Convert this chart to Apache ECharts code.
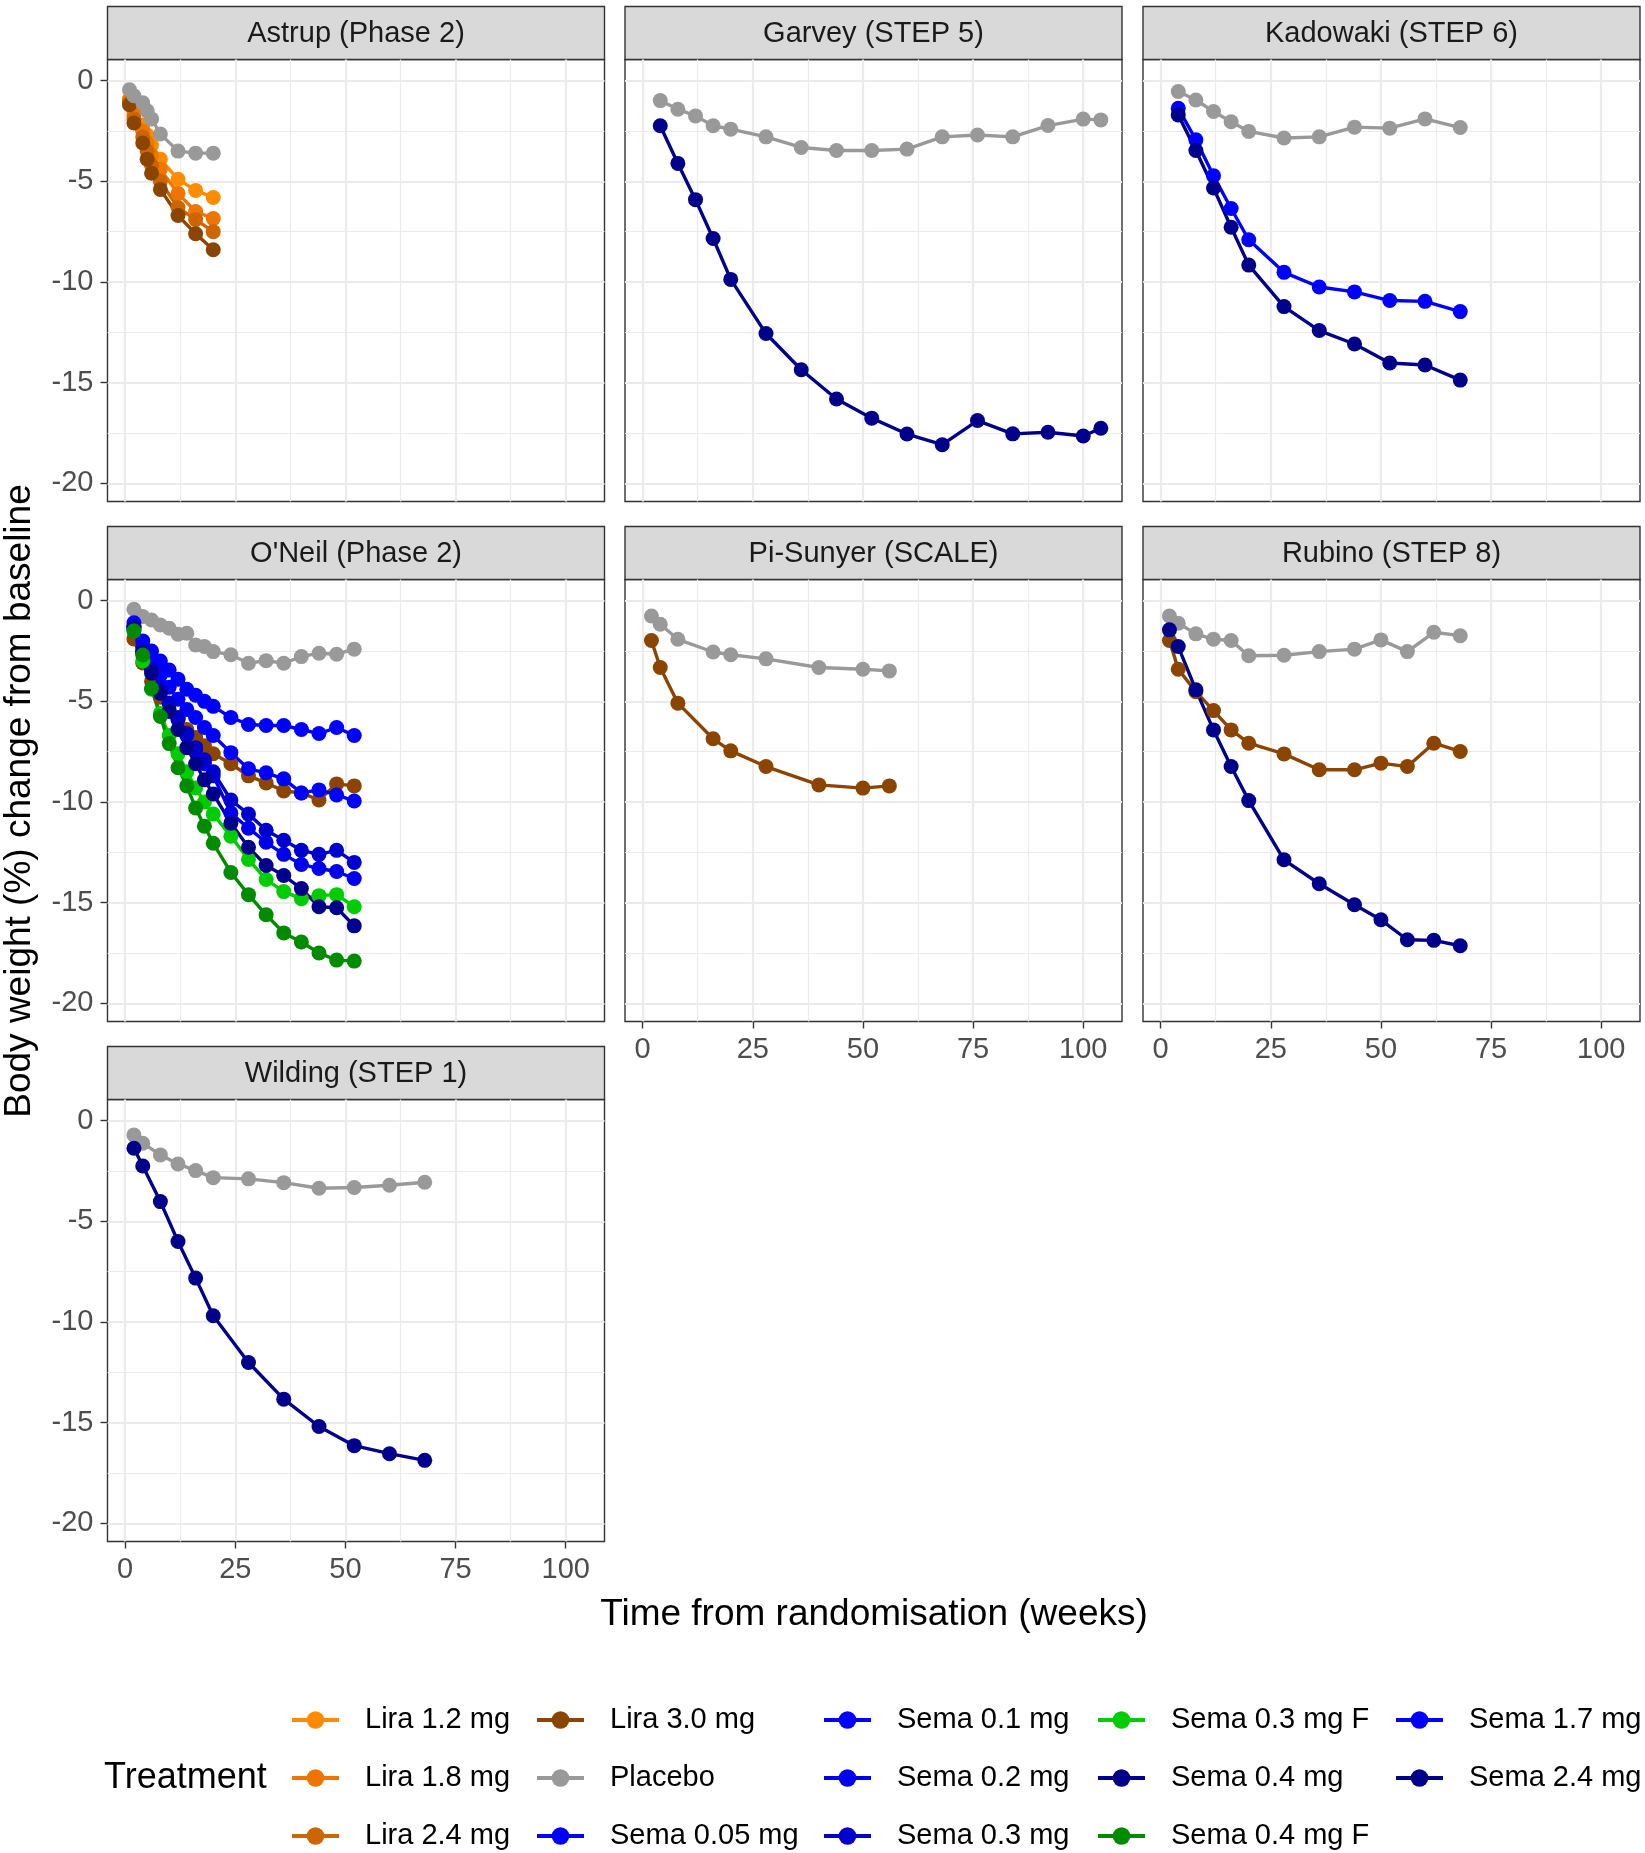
<!DOCTYPE html>
<html>
<head>
<meta charset="utf-8">
<script src="https://cdn.jsdelivr.net/npm/echarts@6/dist/echarts.min.js"></script>
<style>
  html, body { margin: 0; padding: 0; background: #fff; }
  #chart { width: 1645px; height: 1853px; }
</style>
</head>
<body>
<div id="chart"></div>
<script>
// ---- data (weeks since randomisation, % change in body weight) ----
const astrupWeeks = [1, 2, 4, 5, 6, 8, 12, 16, 20];
const astrupPlacebo = [-0.45, -0.75, -1.1, -1.5, -1.9, -2.65, -3.5, -3.6, -3.6];
const astrupLira12 = [-0.9, -1.5, -2.2, -2.7, -3.2, -3.9, -4.9, -5.45, -5.8];
const astrupLira18 = [-1.0, -1.7, -2.5, -3.1, -3.7, -4.4, -5.6, -6.5, -6.85];
const astrupLira24 = [-1.1, -1.9, -2.8, -3.5, -4.2, -5.0, -6.3, -6.9, -7.5];
const astrupLira30 = [-1.2, -2.1, -3.1, -3.9, -4.6, -5.4, -6.7, -7.6, -8.4];

const garveyWeeks = [4, 8, 12, 16, 20, 28, 36, 44, 52, 60, 68, 76, 84, 92, 100, 104];
const garveyPlacebo = [-0.99, -1.42, -1.75, -2.24, -2.41, -2.79, -3.32, -3.47, -3.47, -3.40, -2.79, -2.70, -2.79, -2.23, -1.91, -1.95];
const garveySema24 = [-2.24, -4.11, -5.91, -7.84, -9.87, -12.56, -14.36, -15.81, -16.76, -17.55, -18.08, -16.88, -17.54, -17.46, -17.65, -17.26];

const kadowakiWeeks = [4, 8, 12, 16, 20, 28, 36, 44, 52, 60, 68];
const kadowakiPlacebo = [-0.54, -0.96, -1.53, -2.04, -2.52, -2.85, -2.79, -2.31, -2.36, -1.90, -2.33];
const kadowakiSema17 = [-1.37, -2.94, -4.72, -6.35, -7.90, -9.52, -10.25, -10.49, -10.92, -10.96, -11.47];
const kadowakiSema24 = [-1.70, -3.47, -5.33, -7.28, -9.16, -11.22, -12.41, -13.08, -14.02, -14.12, -14.87];

const oneilWeeks = [2, 4, 6, 8, 10, 12, 14, 16, 18, 20, 24, 28, 32, 36, 40, 44, 48, 52];
const oneilPlacebo = [-0.43, -0.79, -0.96, -1.21, -1.37, -1.67, -1.62, -2.20, -2.28, -2.53, -2.69, -3.11, -2.98, -3.11, -2.78, -2.61, -2.66, -2.41];
const oneilLira30 = [-1.9, -3.1, -4.0, -4.8, -5.4, -5.9, -6.4, -6.8, -7.2, -7.6, -8.1, -8.7, -9.05, -9.45, -9.55, -9.9, -9.1, -9.2];
const oneilSema005 = [-1.1, -2.0, -2.5, -3.0, -3.45, -3.9, -4.4, -4.7, -5.0, -5.25, -5.8, -6.15, -6.2, -6.2, -6.4, -6.6, -6.3, -6.7];
const oneilSema01 = [-1.3, -2.3, -3.0, -3.7, -4.3, -4.9, -5.4, -5.8, -6.3, -6.7, -7.55, -8.35, -8.55, -8.85, -9.55, -9.4, -9.65, -9.95];
const oneilSema02 = [-1.3, -2.5, -3.4, -4.3, -5.1, -5.9, -6.7, -7.4, -8.1, -8.7, -10.55, -11.3, -12.0, -12.6, -13.1, -13.3, -13.45, -13.8];
const oneilSema03 = [-1.3, -2.5, -3.4, -4.3, -5.1, -5.8, -6.6, -7.3, -7.9, -8.5, -9.9, -10.6, -11.4, -11.9, -12.4, -12.6, -12.4, -13.0];
const oneilSema04 = [-1.4, -2.6, -3.6, -4.6, -5.5, -6.4, -7.3, -8.1, -8.9, -9.6, -11.05, -12.25, -13.15, -13.65, -14.3, -15.2, -15.25, -16.15];
const oneilSema03F = [-1.5, -3.0, -4.4, -5.6, -6.7, -7.6, -8.5, -9.3, -10.0, -10.6, -11.7, -12.85, -13.85, -14.45, -14.8, -14.65, -14.6, -15.2];
const oneilSema04F = [-1.5, -2.7, -4.35, -5.75, -7.1, -8.3, -9.2, -10.3, -11.2, -12.05, -13.5, -14.6, -15.6, -16.5, -16.95, -17.5, -17.85, -17.9];

const pisunyerWeeks = [2, 4, 8, 16, 20, 28, 40, 50, 56];
const pisunyerPlacebo = [-0.76, -1.17, -1.92, -2.55, -2.69, -2.89, -3.32, -3.41, -3.49];
const pisunyerLira30 = [-1.98, -3.32, -5.09, -6.86, -7.46, -8.24, -9.15, -9.31, -9.20];

const rubinoWeeks = [2, 4, 8, 12, 16, 20, 28, 36, 44, 50, 56, 62, 68];
const rubinoPlacebo = [-0.76, -1.12, -1.65, -1.92, -1.98, -2.74, -2.71, -2.53, -2.41, -1.95, -2.53, -1.57, -1.74];
const rubinoLira30 = [-1.98, -3.41, -4.52, -5.46, -6.42, -7.08, -7.61, -8.40, -8.40, -8.07, -8.24, -7.08, -7.49];
const rubinoSema24 = [-1.45, -2.28, -4.43, -6.42, -8.24, -9.93, -12.87, -14.06, -15.10, -15.85, -16.84, -16.87, -17.14];

const wildingWeeks = [2, 4, 8, 12, 16, 20, 28, 36, 44, 52, 60, 68];
const wildingPlacebo = [-0.71, -1.12, -1.70, -2.15, -2.48, -2.83, -2.89, -3.08, -3.36, -3.32, -3.21, -3.06];
const wildingSema24 = [-1.37, -2.25, -4.02, -6.00, -7.82, -9.69, -12.01, -13.83, -15.19, -16.14, -16.54, -16.87];

const xMajor = [0, 25, 50, 75, 100];
const xMinor = [12.5, 37.5, 62.5, 87.5];
const yMajor = [-20, -15, -10, -5, 0];
const yMinor = [-17.5, -12.5, -7.5, -2.5];

const treatmentColors = {
  'Lira 1.2 mg': '#FF8C00',
  'Lira 1.8 mg': '#EE7600',
  'Lira 2.4 mg': '#CD6600',
  'Lira 3.0 mg': '#8B4500',
  'Placebo': '#999999',
  'Sema 0.05 mg': '#0000FF',
  'Sema 0.1 mg': '#0000FF',
  'Sema 0.2 mg': '#0000EE',
  'Sema 0.3 mg': '#0000CD',
  'Sema 0.3 mg F': '#00CD00',
  'Sema 0.4 mg': '#00008B',
  'Sema 0.4 mg F': '#008B00',
  'Sema 1.7 mg': '#0000FF',
  'Sema 2.4 mg': '#00008B'
};

// legend is filled column by column, 3 rows
const legendColumns = [
  ['Lira 1.2 mg', 'Lira 1.8 mg', 'Lira 2.4 mg'],
  ['Lira 3.0 mg', 'Placebo', 'Sema 0.05 mg'],
  ['Sema 0.1 mg', 'Sema 0.2 mg', 'Sema 0.3 mg'],
  ['Sema 0.3 mg F', 'Sema 0.4 mg', 'Sema 0.4 mg F'],
  ['Sema 1.7 mg', 'Sema 2.4 mg']
];

const panels = [
  { title: 'Astrup (Phase 2)', row: 0, col: 0, weeks: astrupWeeks, showX: false, showY: true,
    arms: [['Lira 1.2 mg', astrupLira12], ['Lira 1.8 mg', astrupLira18], ['Lira 2.4 mg', astrupLira24], ['Lira 3.0 mg', astrupLira30], ['Placebo', astrupPlacebo]] },
  { title: 'Garvey (STEP 5)', row: 0, col: 1, weeks: garveyWeeks, showX: false, showY: false,
    arms: [['Placebo', garveyPlacebo], ['Sema 2.4 mg', garveySema24]] },
  { title: 'Kadowaki (STEP 6)', row: 0, col: 2, weeks: kadowakiWeeks, showX: false, showY: false,
    arms: [['Placebo', kadowakiPlacebo], ['Sema 1.7 mg', kadowakiSema17], ['Sema 2.4 mg', kadowakiSema24]] },
  { title: "O'Neil (Phase 2)", row: 1, col: 0, weeks: oneilWeeks, showX: false, showY: true,
    arms: [['Lira 3.0 mg', oneilLira30], ['Placebo', oneilPlacebo], ['Sema 0.05 mg', oneilSema005], ['Sema 0.1 mg', oneilSema01],
           ['Sema 0.2 mg', oneilSema02], ['Sema 0.3 mg', oneilSema03], ['Sema 0.3 mg F', oneilSema03F], ['Sema 0.4 mg', oneilSema04], ['Sema 0.4 mg F', oneilSema04F]] },
  { title: 'Pi-Sunyer (SCALE)', row: 1, col: 1, weeks: pisunyerWeeks, showX: true, showY: false,
    arms: [['Lira 3.0 mg', pisunyerLira30], ['Placebo', pisunyerPlacebo]] },
  { title: 'Rubino (STEP 8)', row: 1, col: 2, weeks: rubinoWeeks, showX: true, showY: false,
    arms: [['Lira 3.0 mg', rubinoLira30], ['Placebo', rubinoPlacebo], ['Sema 2.4 mg', rubinoSema24]] },
  { title: 'Wilding (STEP 1)', row: 2, col: 0, weeks: wildingWeeks, showX: true, showY: true,
    arms: [['Placebo', wildingPlacebo], ['Sema 2.4 mg', wildingSema24]] }
];

// ---- layout ----
const FONT = '"Liberation Sans", Arial, sans-serif';
const colLeft = [107.5, 625, 1143];
const colWidth = 497;
const rowTop = [59.5, 579.5, 1099.5];
const rowHeight = 442;
const stripH = 53;

const grids = [], xAxes = [], yAxes = [], series = [], graphics = [];

panels.forEach((p, i) => {
  const left = colLeft[p.col], top = rowTop[p.row];
  grids.push({
    left: left, top: top, width: colWidth, height: rowHeight,
    show: true, backgroundColor: '#fff', borderColor: '#333333', borderWidth: 1.4
  });
  // major axis (ticks, labels, major grid) + minor axis (minor grid only)
  xAxes.push({
    gridIndex: i, type: 'value', min: -4, max: 108.8, position: 'bottom',
    axisLine: { show: false, onZero: false },
    axisTick: { show: p.showX, customValues: xMajor, length: 7, lineStyle: { color: '#333', width: 1.4 } },
    axisLabel: { show: p.showX, customValues: xMajor, margin: 14, fontSize: 29, color: '#4D4D4D', fontFamily: FONT },
    splitLine: { show: true, lineStyle: { color: '#EBEBEB', width: 2.2 } }
  });
  xAxes.push({
    gridIndex: i, type: 'value', min: -4, max: 108.8, position: 'top',
    axisLine: { show: false, onZero: false },
    axisTick: { show: false, customValues: xMinor },
    axisLabel: { show: false, customValues: xMinor },
    splitLine: { show: true, lineStyle: { color: '#EBEBEB', width: 1.2 } }
  });
  yAxes.push({
    gridIndex: i, type: 'value', min: -20.9, max: 1.05, position: 'left',
    axisLine: { show: false, onZero: false },
    axisTick: { show: p.showY, customValues: yMajor, length: 7, lineStyle: { color: '#333', width: 1.4 } },
    axisLabel: { show: p.showY, customValues: yMajor, margin: 14, fontSize: 29, color: '#4D4D4D', fontFamily: FONT },
    splitLine: { show: true, lineStyle: { color: '#EBEBEB', width: 2.2 } }
  });
  yAxes.push({
    gridIndex: i, type: 'value', min: -20.9, max: 1.05, position: 'right',
    axisLine: { show: false, onZero: false },
    axisTick: { show: false, customValues: yMinor },
    axisLabel: { show: false, customValues: yMinor },
    splitLine: { show: true, lineStyle: { color: '#EBEBEB', width: 1.2 } }
  });

  p.arms.forEach(([name, vals]) => {
    const c = treatmentColors[name];
    series.push({
      name: name, type: 'line', xAxisIndex: 2 * i, yAxisIndex: 2 * i,
      data: p.weeks.map((w, k) => [w, vals[k]]),
      symbol: 'circle', symbolSize: 15, showSymbol: true,
      lineStyle: { color: c, width: 3.4 },
      itemStyle: { color: c },
      emphasis: { disabled: true },
      z: 3
    });
  });

  // facet strip
  graphics.push({
    type: 'rect', silent: true,
    shape: { x: left, y: top - stripH, width: colWidth, height: stripH },
    style: { fill: '#D9D9D9', stroke: '#333333', lineWidth: 1.4 }
  });
  graphics.push({
    type: 'text', silent: true,
    style: { text: p.title, x: left + colWidth / 2, y: top - stripH / 2 + 1, textAlign: 'center', textVerticalAlign: 'middle',
             font: '29px ' + FONT, fill: '#1A1A1A' }
  });
});

// axis titles and legend title
graphics.push({
  type: 'text', silent: true,
  style: { text: 'Time from randomisation (weeks)', x: 874, y: 1615, textAlign: 'center', textVerticalAlign: 'middle',
           font: '37px ' + FONT, fill: '#000' }
});
graphics.push({
  type: 'text', silent: true, rotation: Math.PI / 2, x: 20, y: 801,
  style: { text: 'Body weight (%) change from baseline', x: 0, y: 0, textAlign: 'center', textVerticalAlign: 'middle',
           font: '37px ' + FONT, fill: '#000' }
});
graphics.push({
  type: 'text', silent: true,
  style: { text: 'Treatment', x: 104, y: 1778, textAlign: 'left', textVerticalAlign: 'middle',
           font: '36px ' + FONT, fill: '#000' }
});

// one legend component per key so the columns line up like the original
const legendLeft = [290, 535, 822, 1096, 1394];
const legendRowCenter = [1720, 1778, 1836];
const legends = [];
legendColumns.forEach((names, j) => {
  names.forEach((name, r) => {
    legends.push({
      orient: 'horizontal', left: legendLeft[j], top: legendRowCenter[r] - 16,
      padding: 0, data: [name], selectedMode: false,
      itemWidth: 47, itemHeight: 22,
      lineStyle: { width: 4 },
      textStyle: { fontSize: 29, fontFamily: FONT, color: '#000', lineHeight: 32, padding: [0, 0, 0, 21] }
    });
  });
});

const chart = echarts.init(document.getElementById('chart'));
chart.setOption({
  animation: false,
  backgroundColor: '#fff',
  grid: grids,
  xAxis: xAxes,
  yAxis: yAxes,
  legend: legends,
  series: series,
  graphic: graphics
});
</script>
</body>
</html>
